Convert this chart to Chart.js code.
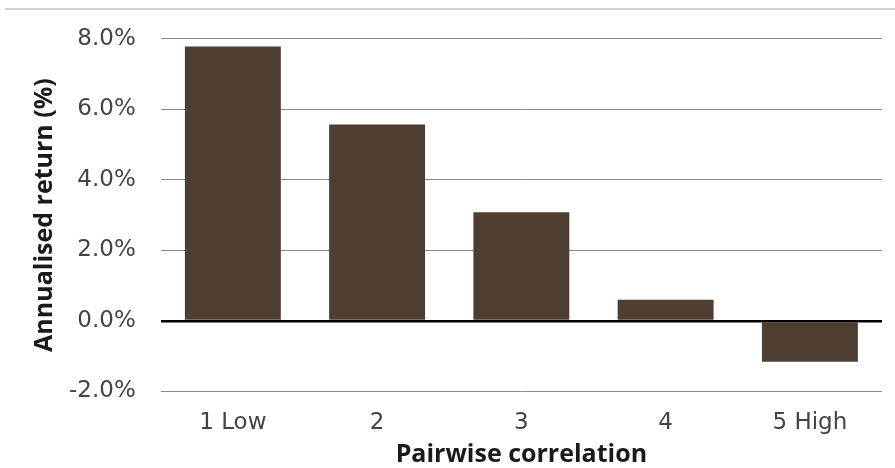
<!DOCTYPE html>
<html>
<head>
<meta charset="utf-8">
<script src="https://cdn.jsdelivr.net/npm/chart.js@4"></script>
<style>
  html, body { margin: 0; padding: 0; background: #ffffff; }
  #wrap { position: relative; width: 895px; height: 468px; }
  #topRule { position: absolute; left: 5px; right: 0; top: 8px; height: 2px; background: #d3d3d3; }
  canvas { position: absolute; left: 0; top: 0; }
</style>
</head>
<body>
<div id="wrap">
  <div id="topRule"></div>
  <canvas id="chart" width="895" height="468"></canvas>
</div>
<script>
// Correlation quintiles and their annualised returns (%)
const categories = ['1 Low', '2', '3', '4', '5 High'];
const annualisedReturn = [7.78, 5.57, 3.08, 0.6, -1.16];
const yTicks = [-2, 0, 2, 4, 6, 8];

const barColor = '#4f3d32';
const tickFont = { family: 'DejaVu Sans', size: 23 };
const titleFont = { family: 'Open Sans', size: 25, weight: 'bold' };

new Chart(document.getElementById('chart'), {
  type: 'bar',
  data: {
    labels: categories,
    datasets: [{
      data: annualisedReturn,
      backgroundColor: barColor,
      borderWidth: 0,
      categoryPercentage: 1.0,
      barPercentage: 0.665
    }]
  },
  options: {
    responsive: false,
    animation: false,
    devicePixelRatio: 1,
    layout: { padding: { top: 20, right: 13, left: 30, bottom: 0 } },
    plugins: { legend: { display: false }, tooltip: { enabled: false } },
    scales: {
      x: {
        grid: { display: false, drawTicks: false },
        border: { display: false },
        ticks: {
          color: '#444444',
          padding: 18,
          font: tickFont
        },
        title: {
          display: true,
          text: 'Pairwise correlation',
          color: '#1a1a1a',
          padding: { top: -15, bottom: -2 },
          font: titleFont
        }
      },
      y: {
        min: -2,
        max: 8,
        afterBuildTicks: (axis) => { axis.ticks = yTicks.map(v => ({ value: v })); },
        grid: {
          drawTicks: false,
          color: (ctx) => ctx.tick && ctx.tick.value === 0 ? '#000000' : '#8c8c8c',
          lineWidth: (ctx) => ctx.tick && ctx.tick.value === 0 ? 2.5 : 1
        },
        border: { display: false },
        ticks: {
          color: '#444444',
          padding: 25,
          font: tickFont,
          callback: (v) => v.toFixed(1) + '%'
        },
        title: {
          display: true,
          text: 'Annualised return (%)',
          color: '#1a1a1a',
          padding: { top: 0, bottom: -16 },
          font: titleFont
        }
      }
    }
  }
});
</script>
</body>
</html>
